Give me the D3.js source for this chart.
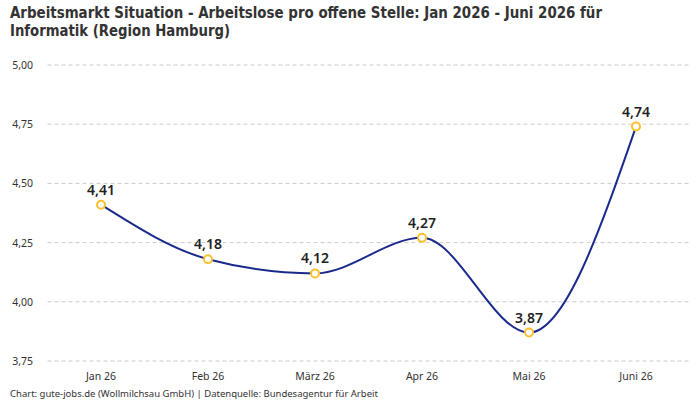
<!DOCTYPE html>
<html>
<head>
<meta charset="utf-8">
<script src="https://cdn.jsdelivr.net/npm/d3@7"></script>
<style>
  body { margin: 0; background: #fff; }
  svg { display: block; }
</style>
</head>
<body>
<svg id="chart" width="700" height="400"></svg>
<script>
const months = ["Jan 26", "Feb 26", "März 26", "Apr 26", "Mai 26", "Juni 26"];
const values = [4.41, 4.18, 4.12, 4.27, 3.87, 4.74];
const yTicks = [3.75, 4.00, 4.25, 4.50, 4.75, 5.00];
const titleLines = [
  "Arbeitsmarkt Situation - Arbeitslose pro offene Stelle: Jan 2026 - Juni 2026 für",
  "Informatik (Region Hamburg)"
];
const footer = "Chart: gute-jobs.de (Wollmilchsau GmbH) | Datenquelle: Bundesagentur für Arbeit";

const svg = d3.select("#chart");
const plotLeft = 47.5, plotRight = 689.5, plotTop = 65, plotBottom = 361;
const titleWidths = [592, 220];

const fmt = v => v.toFixed(2).replace(".", ",");

const x = d3.scalePoint().domain(months).range([plotLeft, plotRight]).padding(0.5);
const y = d3.scaleLinear().domain([3.75, 5.0]).range([plotBottom, plotTop]);

// title (squeezed to the width of the original condensed font)
svg.append("g").selectAll("text")
  .data(titleLines)
  .enter().append("text")
  .attr("x", 10)
  .attr("y", (d, i) => 18 + i * 17.5)
  .attr("textLength", (d, i) => titleWidths[i])
  .attr("lengthAdjust", "spacingAndGlyphs")
  .style("font-family", "'DejaVu Sans', sans-serif")
  .style("font-stretch", "condensed")
  .style("font-weight", "bold")
  .style("font-size", "16px")
  .style("fill", "#333")
  .text(d => d);

// grid + y labels
const yAxis = svg.append("g");
yAxis.selectAll("line")
  .data(yTicks)
  .enter().append("line")
  .attr("x1", plotLeft).attr("x2", plotRight)
  .attr("y1", d => y(d)).attr("y2", d => y(d))
  .style("stroke", "#ccc")
  .style("stroke-dasharray", "4,3")
  .style("stroke-width", 1);
yAxis.selectAll("text")
  .data(yTicks)
  .enter().append("text")
  .attr("x", 33).attr("y", d => y(d))
  .attr("text-anchor", "end")
  .attr("dominant-baseline", "central")
  .style("font-family", "'Noto Sans', sans-serif")
  .style("font-size", "10.5px")
  .style("fill", "#333")
  .text(d => fmt(d));

// x labels
svg.append("g").selectAll("text")
  .data(months)
  .enter().append("text")
  .attr("x", d => x(d)).attr("y", 380)
  .attr("text-anchor", "middle")
  .style("font-family", "'Noto Sans', sans-serif")
  .style("font-size", "10.5px")
  .style("fill", "#333")
  .text(d => d);

// line
const line = d3.line()
  .x((d, i) => x(months[i]))
  .y(d => y(d))
  .curve(d3.curveMonotoneX);

svg.append("path")
  .datum(values)
  .attr("d", line)
  .style("fill", "none")
  .style("stroke", "#1a2a8c")
  .style("stroke-width", 2);

// points
svg.append("g").selectAll("circle")
  .data(values)
  .enter().append("circle")
  .attr("cx", (d, i) => x(months[i]))
  .attr("cy", d => y(d))
  .attr("r", 4)
  .style("fill", "#fff")
  .style("stroke", "#fbc02d")
  .style("stroke-width", 2);

// value labels
svg.append("g").selectAll("text")
  .data(values)
  .enter().append("text")
  .attr("x", (d, i) => x(months[i]))
  .attr("y", d => y(d) - 10)
  .attr("text-anchor", "middle")
  .style("font-family", "'Noto Sans', sans-serif")
  .style("font-weight", "600")
  .style("font-size", "14px")
  .style("fill", "#222")
  .text(d => fmt(d));

// footer
svg.append("text")
  .attr("x", 10).attr("y", 397)
  .style("font-family", "'Noto Sans', sans-serif")
  .style("font-size", "9.5px")
  .style("fill", "#333")
  .text(footer);
</script>
</body>
</html>
